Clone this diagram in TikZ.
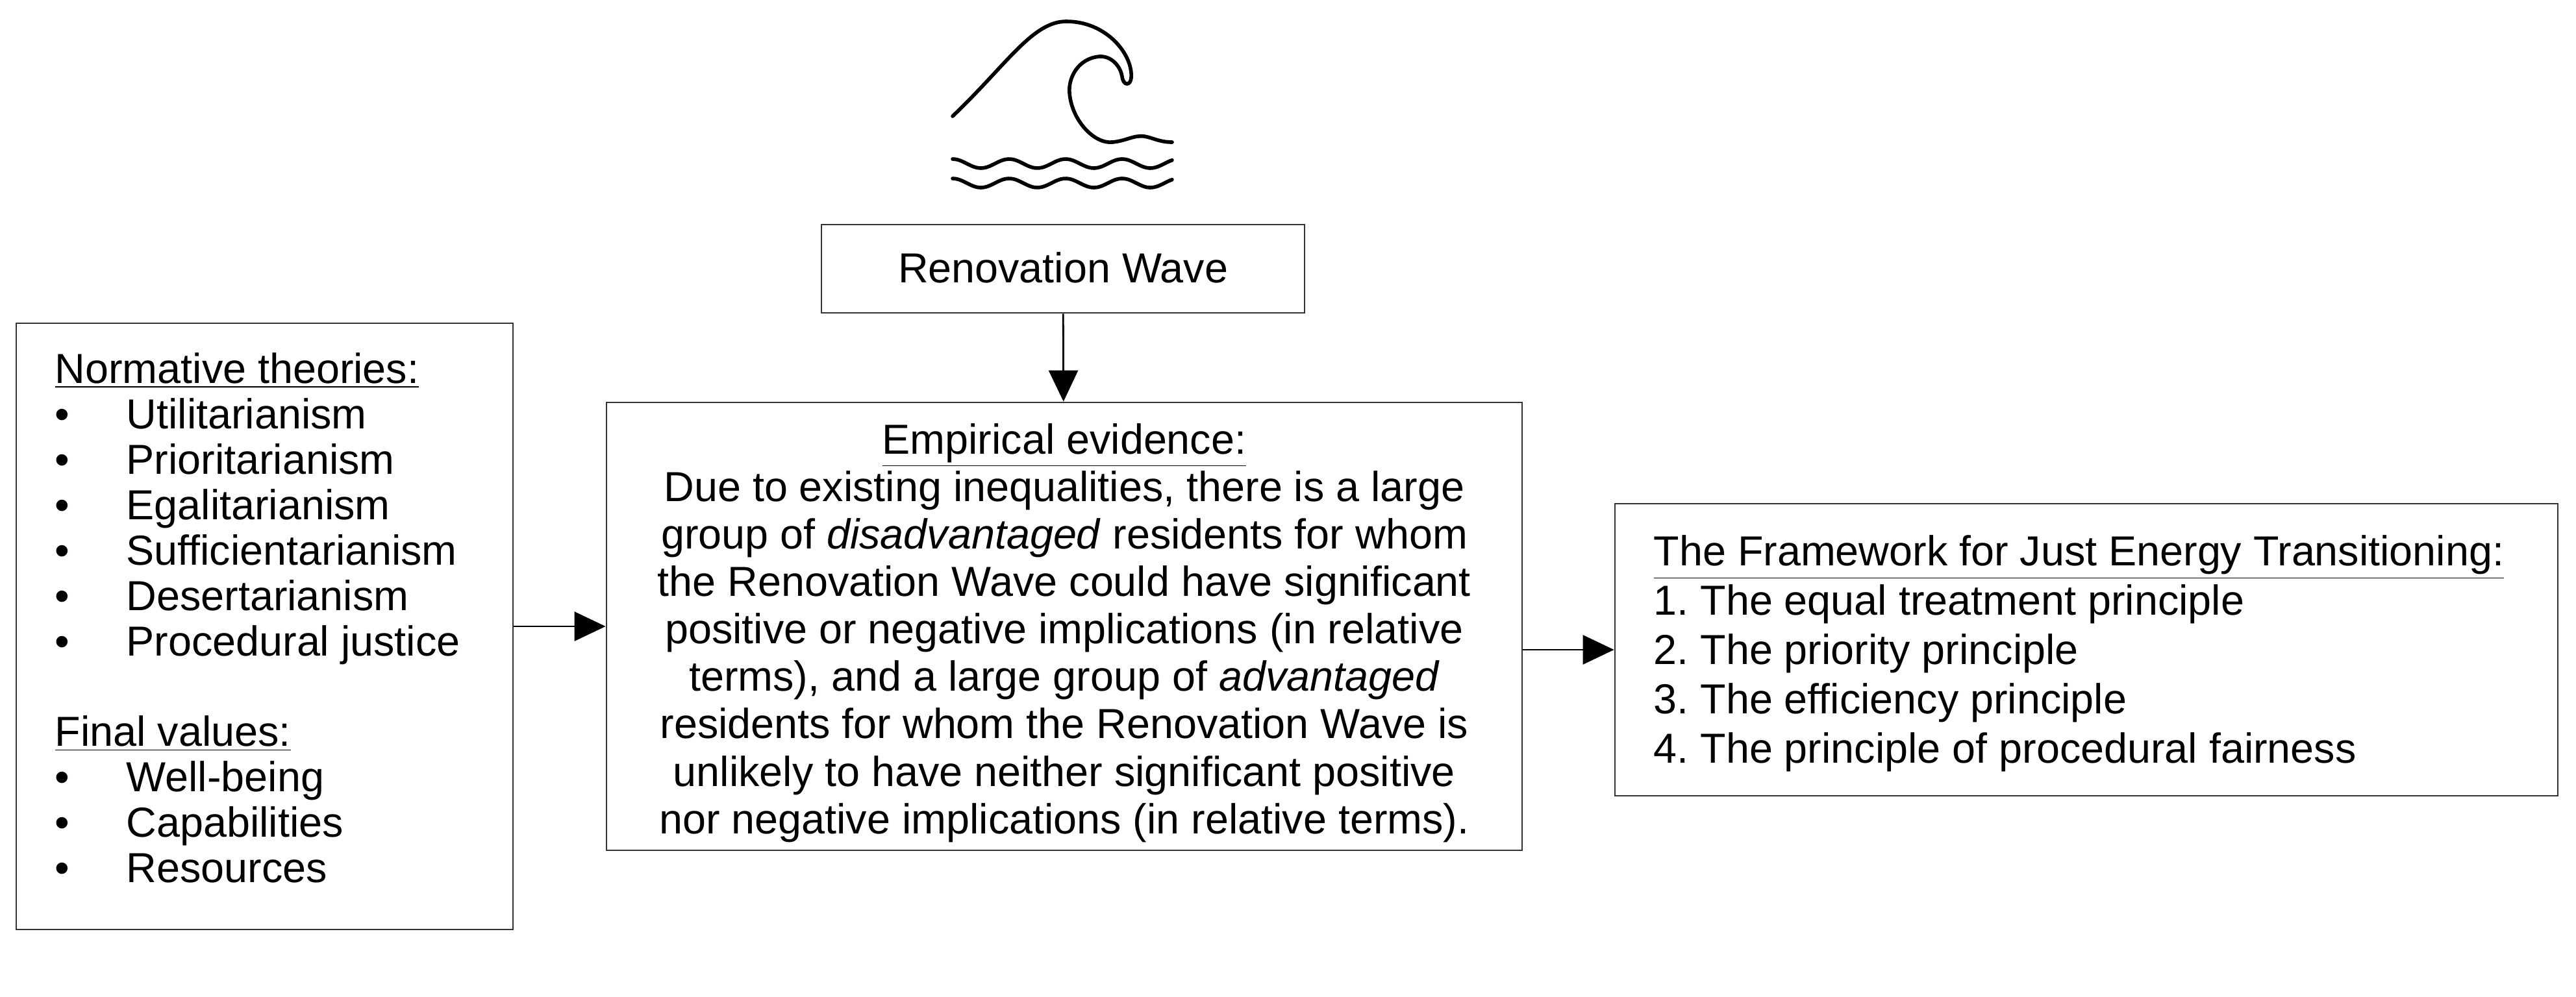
\documentclass[tikz,border=0pt]{standalone}
\usepackage{fontspec}
\setmainfont{Liberation Sans}
\usetikzlibrary{arrows.meta}
\begin{document}
\frenchspacing
\begin{tikzpicture}[
  box/.style={draw=black!80, line width=0.8pt, inner sep=0pt},
  txt/.style={inner sep=0pt, font=\fontsize{18.4}{19.9}\selectfont},
  arr/.style={line width=0.8pt, -{Triangle[length=0.48cm,width=0.45cm]}},
  wave/.style={line width=1.6pt, line cap=round}
]
\useasboundingbox (0,0) rectangle (39.67,-15.35);
% wave icon
\draw[wave] (14.67,-1.79) .. controls (15.5,-1.0) and (15.9,-0.33) .. (16.42,-0.33)
  .. controls (17.05,-0.33) and (17.45,-0.85) .. (17.42,-1.2)
  .. controls (17.41,-1.32) and (17.30,-1.33) .. (17.28,-1.18)
  .. controls (17.25,-1.0) and (17.10,-0.86) .. (16.93,-0.87)
  .. controls (16.60,-0.90) and (16.45,-1.20) .. (16.47,-1.43)
  .. controls (16.50,-1.85) and (16.85,-2.22) .. (17.13,-2.19)
  .. controls (17.35,-2.17) and (17.45,-2.08) .. (17.62,-2.10)
  .. controls (17.75,-2.12) and (17.85,-2.19) .. (18.05,-2.19);
\draw[wave] plot[domain=14.67:18.05, samples=80, smooth] (\x,{-2.52+0.07*sin(deg(2*pi*(\x-14.67)/0.87)+90)});
\draw[wave] plot[domain=14.67:18.05, samples=80, smooth] (\x,{-2.82+0.07*sin(deg(2*pi*(\x-14.67)/0.87)+90)});
% boxes
\node[box, minimum width=7.44cm, minimum height=1.36cm] (rw) at (16.37,-4.14) {};
\node[txt, anchor=base] (rwt) at (16.37,-4.35) {Renovation Wave};
\node[box, minimum width=14.10cm, minimum height=6.90cm] (mid) at (16.39,-9.65) {};
\node[txt, align=center, font=\fontsize{18.4}{20.8}\selectfont] (midt) at (16.39,-9.75) {\underline{Empirical evidence:}\\
Due to existing inequalities, there is a large\\
group of \textit{disadvantaged} residents for whom\\
the Renovation Wave could have significant\\
positive or negative implications (in relative\\
terms), and a large group of \textit{advantaged}\\
residents for whom the Renovation Wave is\\
unlikely to have neither significant positive\\
nor negative implications (in relative terms).};
\node[box, minimum width=7.65cm, minimum height=9.34cm] (left) at (4.075,-9.65) {};
\node[txt, align=left, anchor=west] (leftt) at (0.84,-9.52) {\underline{Normative theories:}\\
\makebox[1.1cm][l]{\textbullet}Utilitarianism\\
\makebox[1.1cm][l]{\textbullet}Prioritarianism\\
\makebox[1.1cm][l]{\textbullet}Egalitarianism\\
\makebox[1.1cm][l]{\textbullet}Sufficientarianism\\
\makebox[1.1cm][l]{\textbullet}Desertarianism\\
\makebox[1.1cm][l]{\textbullet}Procedural justice\\[19.9pt]
\underline{Final values:}\\
\makebox[1.1cm][l]{\textbullet}Well-being\\
\makebox[1.1cm][l]{\textbullet}Capabilities\\
\makebox[1.1cm][l]{\textbullet}Resources};
\node[box, minimum width=14.52cm, minimum height=4.50cm] (right) at (32.13,-10.01) {};
\node[txt, align=left, anchor=west, font=\fontsize{18.4}{21.6}\selectfont] (rightt) at (25.46,-10.07) {\underline{The Framework for Just Energy Transitioning:}\\
1. The equal treatment principle\\
2. The priority principle\\
3. The efficiency principle\\
4. The principle of procedural fairness};
% connectors
\draw[arr] (rw) -- (mid);
\draw[arr] (left) -- (mid);
\draw[arr] (mid.east |- right.west) -- (right.west);
\end{tikzpicture}
\end{document}
